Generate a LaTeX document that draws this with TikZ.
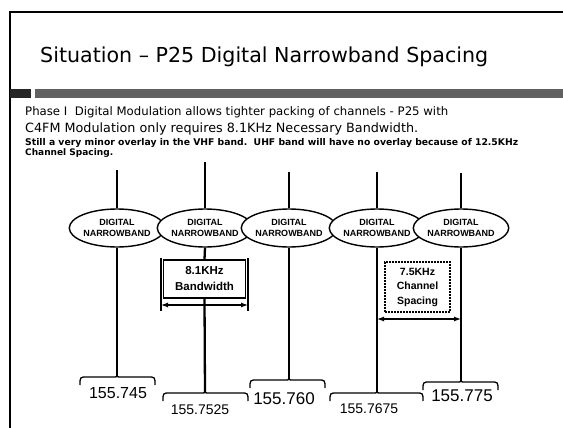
\documentclass[tikz,border=0pt]{standalone}
\usepackage{fontspec}
\setmainfont{DejaVu Sans}
\newfontfamily\arial{Liberation Sans}
\usepackage{graphicx}
\usetikzlibrary{shapes.geometric,arrows.meta}
\newcommand{\mybrace}[4]{% left x, right x, tip x, y
  \draw[bracestyle] (#1,#4+8) .. controls (#1,#4) .. (#1+7,#4) -- (#3-4,#4)
    .. controls (#3,#4) .. (#3,#4-3) .. controls (#3,#4) .. (#3+4,#4)
    -- (#2-7,#4) .. controls (#2,#4) .. (#2,#4+8);}
\begin{document}
\begin{tikzpicture}[x=1pt,y=-1pt,
  chan/.style={line width=2.3pt},
  frame/.style={line width=1.6pt},
  bandnode/.style={ellipse, draw, line width=1.4pt, fill=white, minimum width=86pt,
    minimum height=38pt, inner sep=0pt, align=center,
    font=\arial\bfseries\fontsize{9}{11.5}\selectfont},
  infobox/.style={draw, line width=1.2pt, fill=white, inner sep=0pt, align=center,
    font=\arial\bfseries\fontsize{11.5}{16}\selectfont},
  ext/.style={line width=1.3pt},
  dimarrow/.style={line width=1.2pt, {Latex[length=7pt,width=5pt]}-{Latex[length=7pt,width=5pt]}},
  bracestyle/.style={line width=1.3pt},
  freq/.style={font=\arial, inner sep=0pt}
]
\useasboundingbox (0,0) rectangle (563,428);
\fill[white] (0,0) rectangle (563,428);

% frame
\coordinate (fbl) at (10,428);
\coordinate (ftl) at (10,12);
\coordinate (ftr) at (563,12);
\draw[frame] (fbl) -- (ftl) -- (ftr);

% title
\node[anchor=west, inner sep=0pt] (title) at (40,57)
  {\resizebox{448pt}{!}{\fontsize{20}{24}\selectfont Situation – P25 Digital Narrowband Spacing}};

% band
\fill[black!85] (10,89) rectangle (31,98);
\fill[black!62] (35,89) rectangle (563,98);

% body text
\node[anchor=west, inner sep=0pt] (p1) at (25,112)
  {\resizebox{423pt}{!}{\fontsize{11}{13}\selectfont Phase I\ \ Digital Modulation allows tighter packing of channels - P25 with}};
\node[anchor=west, inner sep=0pt] (p2) at (25,129)
  {\resizebox{393pt}{!}{\fontsize{11}{13}\selectfont C4FM Modulation only requires 8.1KHz Necessary Bandwidth.}};
\node[anchor=west, inner sep=0pt] (p3) at (25,143)
  {\resizebox{493pt}{!}{\fontsize{8}{10}\selectfont\bfseries Still a very minor overlay in the VHF band.\ \ UHF band will have no overlay because of 12.5KHz}};
\node[anchor=west, inner sep=0pt] (p4) at (25,153)
  {\resizebox{88pt}{!}{\fontsize{8}{10}\selectfont\bfseries Channel Spacing.}};

% channel tops and bottoms
\coordinate (t1) at (117,170); \coordinate (b1) at (117,377);
\coordinate (t2) at (205,162); \coordinate (b2) at (205,393);
\coordinate (t3) at (289,172); \coordinate (b3) at (289,380);
\coordinate (t4) at (377,172); \coordinate (b4) at (377,393);
\coordinate (t5) at (461,173); \coordinate (b5) at (461,382);

% ellipses
\node[bandnode] (e1) at (117,228) {DIGITAL\\NARROWBAND};
\node[bandnode] (e2) at (205,228) {DIGITAL\\NARROWBAND};
\node[bandnode] (e3) at (289,228) {DIGITAL\\NARROWBAND};
\node[bandnode] (e4) at (377,228) {DIGITAL\\NARROWBAND};
\node[bandnode] (e5) at (461,228) {DIGITAL\\NARROWBAND};

% boxes
\node[infobox, minimum width=82pt, minimum height=38pt] (bw) at (204.5,279) {8.1KHz\\Bandwidth};
\node[infobox, dashed, dash pattern=on 2pt off 1pt, line width=1.4pt, minimum width=65pt, minimum height=50pt,
  font=\arial\bfseries\fontsize{10.5}{14.5}\selectfont] (cs) at (417.5,287) {7.5KHz\\Channel\\Spacing};

% channel lines
\draw[chan] (t1) -- (e1.north); \draw[chan] (e1.south) -- (b1);
\draw[chan] (t2) -- (e2.north); \draw[chan] (e2.south) -- (bw.north); \draw[chan] (bw.south) -- (b2);
\draw[chan] (t3) -- (e3.north); \draw[chan] (e3.south) -- (b3);
\draw[chan] (t4) -- (e4.north); \draw[chan, line width=2.8pt] (e4.south) -- (b4);
\draw[chan] (t5) -- (e5.north); \draw[chan] (e5.south) -- (b5);

% dimension 1
\coordinate (x1a) at (161,258); \coordinate (x1b) at (161,311);
\coordinate (x2a) at (248,258); \coordinate (x2b) at (248,311);
\draw[ext] (x1a) -- (x1b);
\draw[ext] (x2a) -- (x2b);
\coordinate (d1l) at (161,305); \coordinate (d1r) at (248,305);
\draw[dimarrow] (d1l) -- (d1r);

% dimension 2
\coordinate (d2l) at (377,319); \coordinate (d2r) at (461,319);
\draw[dimarrow] (d2l) -- (d2r);

% braces
\mybrace{80}{155}{117}{377}
\mybrace{163}{248}{205}{393}
\mybrace{250}{325}{289}{380}
\mybrace{330}{423}{377}{393}
\mybrace{423}{498}{461}{382}

% frequency labels
\node[freq, font=\arial\fontsize{16}{18}\selectfont] (f1) at (118,393) {155.745};
\node[freq, font=\arial\fontsize{14}{16}\selectfont] (f2) at (200,410) {155.7525};
\node[freq, font=\arial\fontsize{17}{19}\selectfont] (f3) at (284,399) {155.760};
\node[freq, font=\arial\fontsize{14}{16}\selectfont] (f4) at (369,409) {155.7675};
\node[freq, font=\arial\fontsize{17}{19}\selectfont] (f5) at (462,396) {155.775};
\end{tikzpicture}
\end{document}
